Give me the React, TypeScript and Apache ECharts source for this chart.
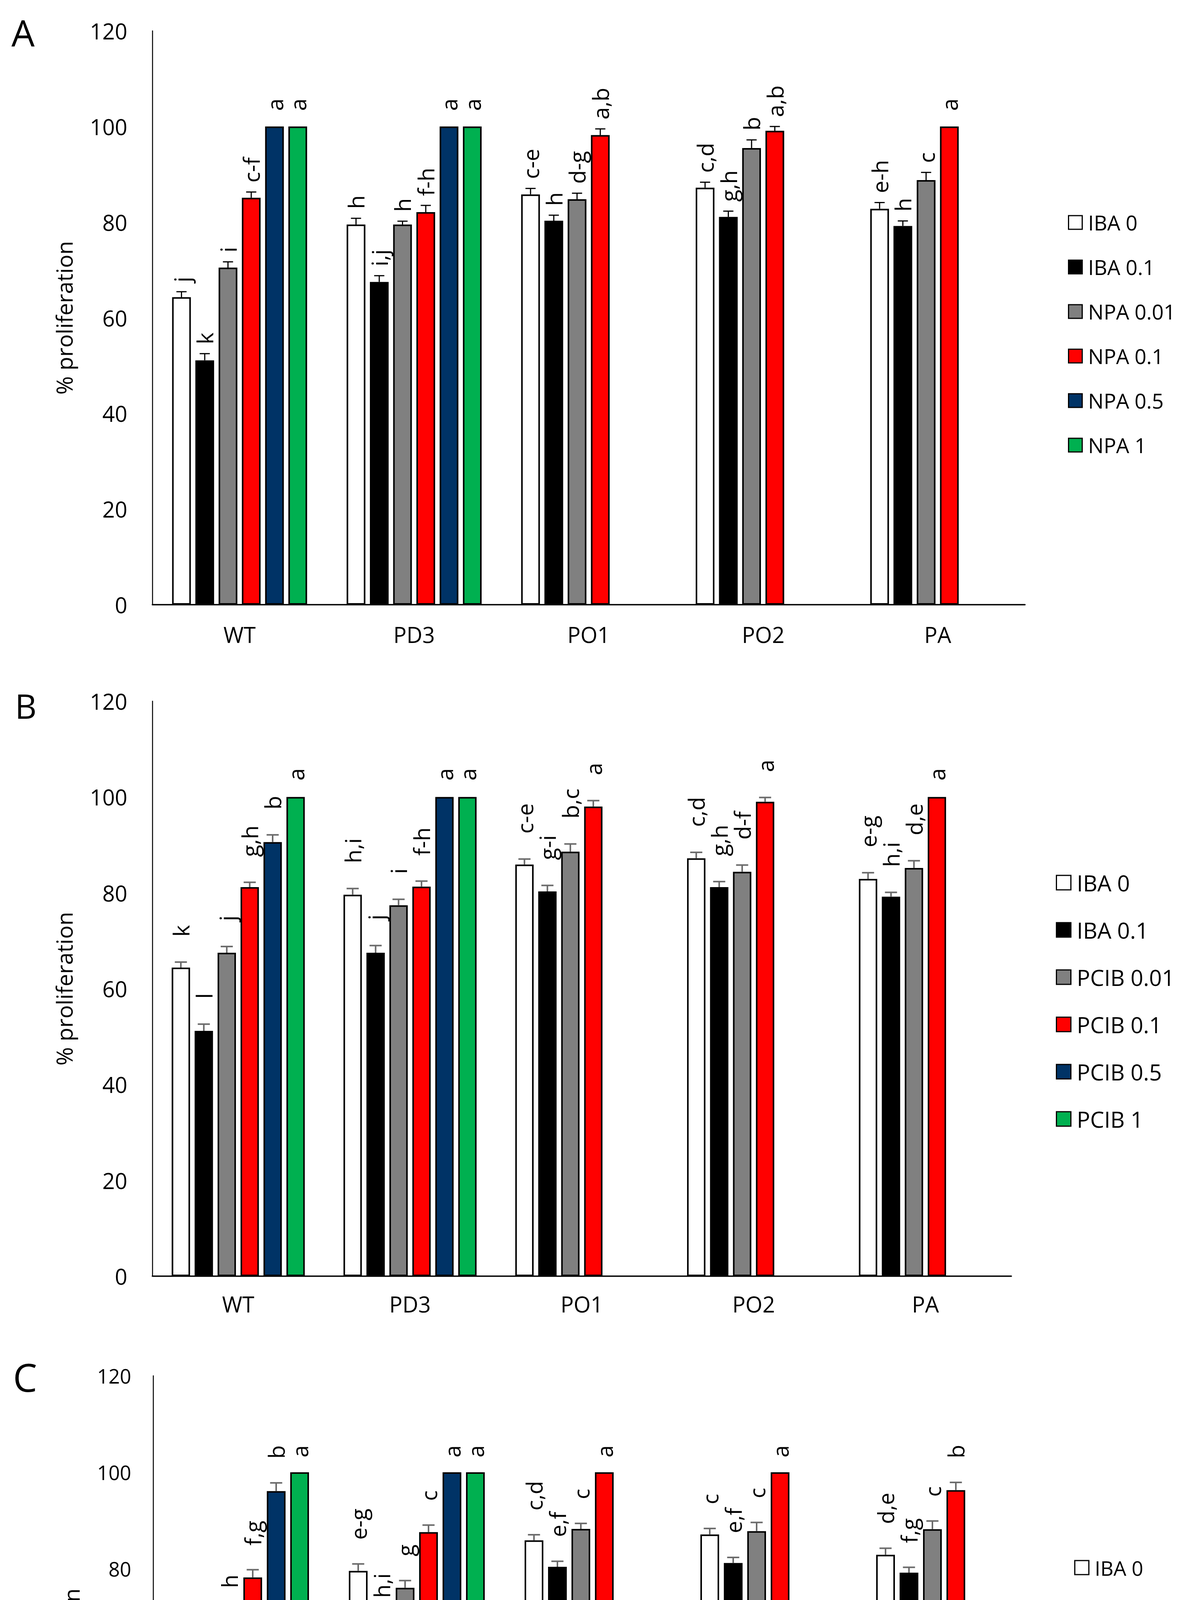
import React, { useEffect, useRef } from "react";
import * as echarts from "echarts";

// ---------------- DATA ----------------
const categories = ["WT", "PD3", "PO1", "PO2", "PA"];
const yMin = 0;
const yMax = 120;
const yInterval = 20;
const yTitle = "% proliferation";

// Panel A (NPA)
const namesA = ["IBA 0", "IBA 0.1", "NPA 0.01", "NPA 0.1", "NPA 0.5", "NPA 1"];
const aIba0 = [64.3, 79.5, 85.8, 87.2, 82.8];
const aIba01 = [51.1, 67.5, 80.3, 81.1, 79.2];
const aNpa001 = [70.5, 79.5, 84.8, 95.5, 88.8];
const aNpa01 = [85.1, 82.1, 98.2, 99.1, 100];
const aNpa05 = [100, 100, null, null, null];
const aNpa1 = [100, 100, null, null, null];
const aIba0Err = [1.15, 1.3, 1.25, 1.15, 1.3];
const aIba01Err = [1.4, 1.3, 1.15, 1.2, 1.05];
const aNpa001Err = [1.2, 0.7, 1.25, 1.7, 1.6];
const aNpa01Err = [1.2, 1.4, 1.3, 0.9, 0];
const aNpa05Err = [0, 0, null, null, null];
const aNpa1Err = [0, 0, null, null, null];
const aIba0Lab = ["j", "h", "c-e", "c,d", "e-h"];
const aIba01Lab = ["k", "i,j", "h", "g,h", "h"];
const aNpa001Lab = ["i", "h", "d-g", "b", "c"];
const aNpa01Lab = ["c-f", "f-h", "a,b", "a,b", "a"];
const aNpa05Lab = ["a", "a"];
const aNpa1Lab = ["a", "a"];

// Panel B (PCIB)
const namesB = ["IBA 0", "IBA 0.1", "PCIB 0.01", "PCIB 0.1", "PCIB 0.5", "PCIB 1"];
const bIba0 = [64.4, 79.6, 85.9, 87.2, 82.9];
const bIba01 = [51.2, 67.5, 80.3, 81.2, 79.2];
const bPcib001 = [67.5, 77.4, 88.6, 84.4, 85.2];
const bPcib01 = [81.2, 81.3, 98.0, 99.0, 100];
const bPcib05 = [90.6, 100, null, null, null];
const bPcib1 = [100, 100, null, null, null];
const bIba0Err = [1.15, 1.3, 1.15, 1.25, 1.3];
const bIba01Err = [1.4, 1.5, 1.25, 1.15, 0.9];
const bPcib001Err = [1.3, 1.25, 1.6, 1.4, 1.5];
const bPcib01Err = [1.0, 1.15, 1.25, 0.9, 0];
const bPcib05Err = [1.5, 0, null, null, null];
const bPcib1Err = [0, 0, null, null, null];
const bIba0Lab = ["k", "h,i", "c-e", "c,d", "e-g"];
const bIba01Lab = ["l", "j", "g-i", "g,h", "h,i"];
const bPcib001Lab = ["j", "i", "b,c", "d-f", "d,e"];
const bPcib01Lab = ["g,h", "f-h", "a", "a", "a"];
const bPcib05Lab = ["b", "a"];
const bPcib1Lab = ["a", "a"];

// Panel C (TIBA)
const namesC = ["IBA 0", "IBA 0.1", "TIBA 0.01", "TIBA 0.1", "TIBA 1", "TIBA 2"];
const cIba0 = [64.2, 79.55, 85.9, 87.1, 82.9];
const cIba01 = [51.1, 67.5, 80.4, 81.2, 79.2];
const cTiba001 = [69.5, 76.05, 88.25, 87.8, 88.2];
const cTiba01 = [78.2, 87.6, 100, 100, 96.3];
const cTiba1 = [96.1, 100, null, null, null];
const cTiba2 = [100, 100, null, null, null];
const cIba0Err = [1.25, 1.45, 1.15, 1.25, 1.35];
const cIba01Err = [1.45, 1.45, 1.15, 1.15, 1.1];
const cTiba001Err = [1.5, 1.5, 1.15, 1.8, 1.7];
const cTiba01Err = [1.6, 1.45, 0, 0, 1.6];
const cTiba1Err = [1.7, 0, null, null, null];
const cTiba2Err = [0, 0, null, null, null];
const cIba0Lab = ["i", "e-g", "c,d", "c", "d,e"];
const cIba01Lab = ["j", "h,i", "e,f", "e,f", "f,g"];
const cTiba001Lab = ["h", "g", "c", "c", "c"];
const cTiba01Lab = ["f,g", "c", "a", "a", "b"];
const cTiba1Lab = ["b", "a"];
const cTiba2Lab = ["a", "a"];

// ---------------- STYLE ----------------
const FONT = '"Open Sans", "Noto Sans", sans-serif';
const COLORS = ["#FFFFFF", "#000000", "#808080", "#FF0000", "#003366", "#00B050"];

const layoutA = {
  grid: { left: 390, top: 79, width: 2234, height: 1469 },
  tickFont: 56, tickMargin: 64, catFont: 56, catMargin: 48,
  titleFont: 57, titleGap: 198,
  legend: { left: 2729, top: 538, font: 53, gap: 61, icon: 35 },
  barWidth: 48, barGap: 0.24,
  errColor: "#000000", errWidth: 3, capWidth: 26,
  labelFont: 57, gapErr: 24, gapZero: 40,
  letter: { x: 59, y: 83, size: 94 },
};
const layoutB = {
  grid: { left: 390, top: 1795, width: 2199, height: 1472 },
  tickFont: 56, tickMargin: 64, catFont: 56, catMargin: 43,
  titleFont: 57, titleGap: 198,
  legend: { left: 2698, top: 2226, font: 57, gap: 64, icon: 37 },
  barWidth: 47, barGap: 0.25,
  errColor: "#6b6b6b", errWidth: 4, capWidth: 31,
  labelFont: 57, gapErr: 65, gapZero: 42,
  letter: { x: 66, y: 1806, size: 86 },
};
const layoutC = {
  grid: { left: 392, top: 3522, width: 2250, height: 1482 },
  tickFont: 51, tickMargin: 56, catFont: 51, catMargin: 43,
  titleFont: 57, titleGap: 182,
  legend: { left: 2745, top: 3982, font: 52, gap: 61, icon: 36 },
  barWidth: 48, barGap: 0.25,
  errColor: "#6b6b6b", errWidth: 4, capWidth: 31,
  labelFont: 56, gapErr: 62, gapZero: 38,
  letter: { x: 64, y: 3525, size: 98 },
};

const panels = [
  {
    letter: "A", names: namesA, L: layoutA,
    values: [aIba0, aIba01, aNpa001, aNpa01, aNpa05, aNpa1],
    errors: [aIba0Err, aIba01Err, aNpa001Err, aNpa01Err, aNpa05Err, aNpa1Err],
    labels: [aIba0Lab, aIba01Lab, aNpa001Lab, aNpa01Lab, aNpa05Lab, aNpa1Lab],
  },
  {
    letter: "B", names: namesB, L: layoutB,
    values: [bIba0, bIba01, bPcib001, bPcib01, bPcib05, bPcib1],
    errors: [bIba0Err, bIba01Err, bPcib001Err, bPcib01Err, bPcib05Err, bPcib1Err],
    labels: [bIba0Lab, bIba01Lab, bPcib001Lab, bPcib01Lab, bPcib05Lab, bPcib1Lab],
  },
  {
    letter: "C", names: namesC, L: layoutC,
    values: [cIba0, cIba01, cTiba001, cTiba01, cTiba1, cTiba2],
    errors: [cIba0Err, cIba01Err, cTiba001Err, cTiba01Err, cTiba1Err, cTiba2Err],
    labels: [cIba0Lab, cIba01Lab, cTiba001Lab, cTiba01Lab, cTiba1Lab, cTiba2Lab],
  },
];

function buildOption() {
  const grid: any[] = [];
  const xAxis: any[] = [];
  const yAxis: any[] = [];
  const series: any[] = [];
  const legend: any[] = [];
  const graphic: any[] = [];

  panels.forEach((p, pi) => {
    const L = p.L;
    grid.push({ ...L.grid, containLabel: false });
    xAxis.push({
      type: "category", gridIndex: pi, data: categories,
      axisLine: { show: true, lineStyle: { color: "#000", width: 3.5 } },
      axisTick: { show: false },
      splitLine: { show: false },
      axisLabel: { color: "#000", fontSize: L.catFont, fontFamily: FONT, margin: L.catMargin, interval: 0 },
    });
    yAxis.push({
      type: "value", gridIndex: pi, min: yMin, max: yMax, interval: yInterval,
      axisLine: { show: true, lineStyle: { color: "#000", width: 2.5 } },
      axisTick: { show: false },
      splitLine: { show: false },
      axisLabel: { color: "#000", fontSize: L.tickFont, fontFamily: FONT, margin: L.tickMargin },
      name: yTitle, nameLocation: "middle", nameGap: L.titleGap,
      nameTextStyle: { color: "#000", fontSize: L.titleFont, fontFamily: FONT },
    });

    p.names.forEach((nm, si) => {
      series.push({
        type: "bar", name: nm, xAxisIndex: pi, yAxisIndex: pi,
        data: p.values[si],
        barWidth: L.barWidth, barGap: L.barGap * 100 + "%",
        itemStyle: { color: COLORS[si], borderColor: "#000", borderWidth: 4 },
        emphasis: { disabled: true }, silent: true, z: 2,
      });
      const entries: any[] = [];
      p.values[si].forEach((v, ci) => {
        if (v != null) entries.push({ ci, v, e: p.errors[si][ci] ?? 0, lab: p.labels[si][ci] ?? "" });
      });
      const offset = (si - 2.5) * L.barWidth * (1 + L.barGap);
      series.push({
        type: "custom", name: "err-" + pi + "-" + si,
        xAxisIndex: pi, yAxisIndex: pi, coordinateSystem: "cartesian2d",
        encode: { x: 0, y: 1 }, z: 5, silent: true, clip: false,
        data: entries.map((en) => [en.ci, en.v, en.e]),
        renderItem: (params: any, api: any) => {
          const en = entries[params.dataIndex];
          const top = api.coord([en.ci, en.v]);
          const cap = api.coord([en.ci, en.v + en.e]);
          const x = top[0] + offset;
          const children: any[] = [];
          if (en.e > 0) {
            children.push({
              type: "line",
              shape: { x1: x, y1: top[1], x2: x, y2: cap[1] },
              style: { stroke: L.errColor, lineWidth: L.errWidth },
            });
            children.push({
              type: "line",
              shape: { x1: x - L.capWidth / 2, y1: cap[1], x2: x + L.capWidth / 2, y2: cap[1] },
              style: { stroke: L.errColor, lineWidth: L.errWidth },
            });
          }
          const ly = cap[1] - (en.e > 0 ? L.gapErr : L.gapZero);
          children.push({
            type: "text",
            x: x, y: ly, rotation: Math.PI / 2,
            style: {
              text: en.lab, fill: "#000", fontSize: L.labelFont, fontFamily: FONT,
              align: "left", verticalAlign: "middle",
            },
          });
          return { type: "group", children };
        },
      });
    });

    legend.push({
      orient: "vertical", left: L.legend.left, top: L.legend.top,
      itemWidth: L.legend.icon, itemHeight: L.legend.icon, itemGap: L.legend.gap,
      icon: "rect", selectedMode: false,
      data: p.names,
      itemStyle: { borderColor: "#000", borderWidth: 3 },
      textStyle: { color: "#000", fontSize: L.legend.font, fontFamily: FONT, padding: [0, 0, 0, 10] },
    });

    graphic.push({
      type: "text", x: L.letter.x, y: L.letter.y,
      style: {
        text: p.letter, fill: "#000", fontSize: L.letter.size, fontFamily: FONT,
        align: "center", verticalAlign: "middle",
      },
    });
  });

  return {
    animation: false,
    backgroundColor: "#ffffff",
    grid, xAxis, yAxis, series, legend, graphic,
  };
}

export default function App() {
  const ref = useRef<HTMLDivElement>(null);
  useEffect(() => {
    document.body.style.margin = "0";
    if (!ref.current) return;
    const chart = echarts.init(ref.current, null, { renderer: "svg" });
    chart.setOption(buildOption() as any);
    return () => chart.dispose();
  }, []);
  return <div ref={ref} style={{ width: 3049, height: 5138, background: "#fff" }} />;
}
